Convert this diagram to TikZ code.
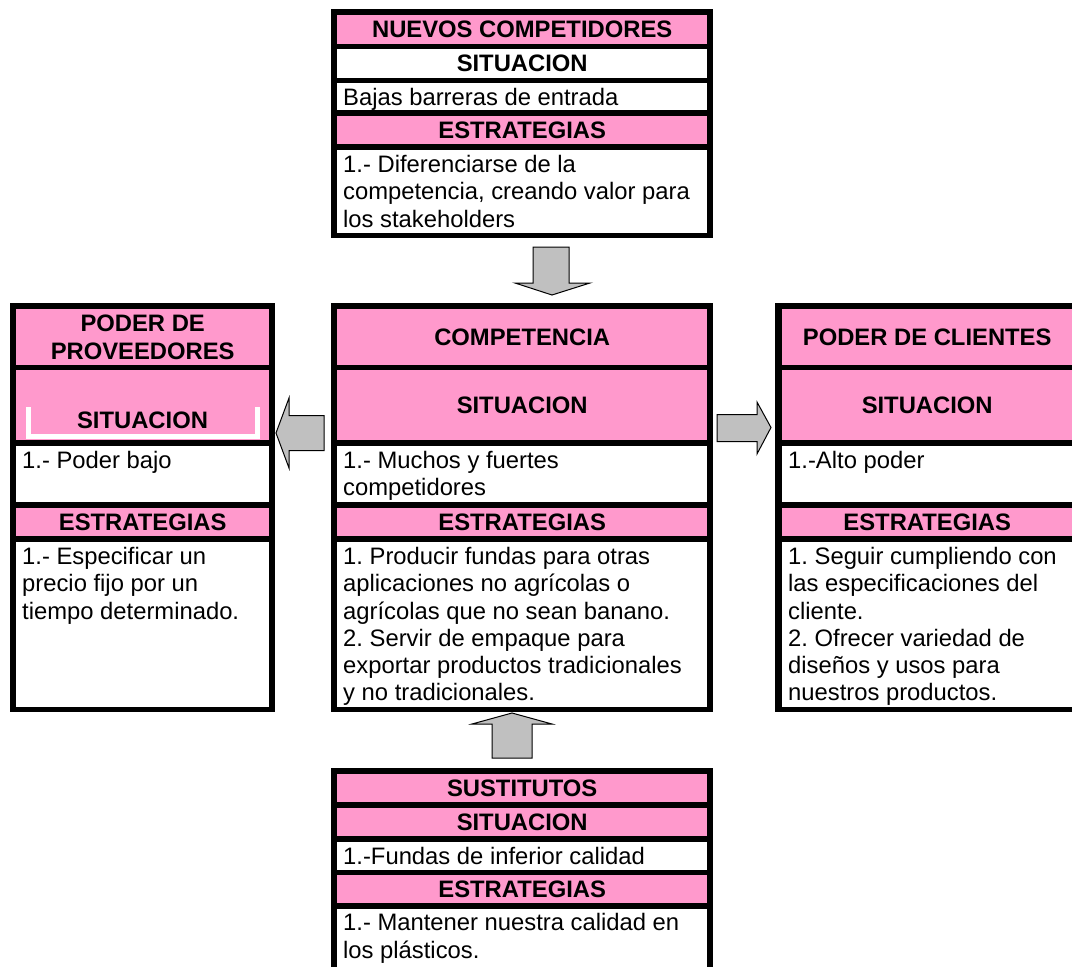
\documentclass[tikz,border=0pt]{standalone}
\usepackage{fontspec}
\setmainfont{Liberation Sans}
\usetikzlibrary{positioning}
\definecolor{rosa}{RGB}{255,153,204}
\definecolor{flecha}{RGB}{192,192,192}
\newcommand{\cajafont}{\fontsize{23.8}{27.3}\selectfont\frenchspacing}

\begin{document}
\begin{tikzpicture}[x=1pt, y=-1pt,
		% Cell styles
		frame/.style={fill=black},
		headcell/.style={rectangle, fill=rosa, inner sep=0pt, anchor=north west,
			align=center, font=\cajafont\bfseries},
		whitecell/.style={rectangle, fill=white, inner sep=0pt, anchor=north west,
			align=center, font=\cajafont\bfseries},
		bodytext/.style={anchor=north west, inner xsep=6pt, inner ysep=5pt,
			align=left, font=\cajafont},
		% Arrow style
		blockarrow/.style={fill=flecha, draw=black, line width=1pt, line join=miter}
		]
		
		\clip (0,0) rectangle (1072,967);
		
		% Nuevos competidores
		\fill[frame] (331,9) rectangle (713,238);
		\node[headcell, minimum width=370pt, minimum height=28.3pt] (nc_title) at (337,15) {NUEVOS COMPETIDORES};
		\node[whitecell, minimum width=370pt, minimum height=29pt] (nc_sit) at (337,48.3) {SITUACION};
		\node[whitecell, minimum width=370pt, minimum height=27.3pt] (nc_sitbody) at (337,82.7) {};
		\node[bodytext] at (nc_sitbody.north west) {Bajas barreras de entrada};
		\node[headcell, minimum width=370pt, minimum height=28pt] (nc_est) at (337,116) {ESTRATEGIAS};
		\node[whitecell, minimum width=370pt, minimum height=82.7pt] (nc_estbody) at (337,150) {};
		\node[bodytext] at (nc_estbody.north west) {1.- Diferenciarse de la\\competencia, creando valor para\\los stakeholders};
		
		% Poder de proveedores
		\fill[frame] (10,303) rectangle (275,712);
		\node[headcell, minimum width=253pt, minimum height=56pt] (pv_title) at (16,309) {PODER DE\\PROVEEDORES};
		\node[headcell, minimum width=253pt, minimum height=70pt] (pv_sit) at (16,370) {};
		\draw[white, line width=5pt] (28,407) -- (28,436) -- (257,436) -- (257,407);
		\node[font=\cajafont\bfseries] (pv_sitlabel) at (142.5,420.5) {SITUACION};
		\node[whitecell, minimum width=253pt, minimum height=56pt] (pv_sitbody) at (16,446) {};
		\node[bodytext] at (pv_sitbody.north west) {1.- Poder bajo};
		\node[headcell, minimum width=253pt, minimum height=28pt] (pv_est) at (16,508) {ESTRATEGIAS};
		\node[whitecell, minimum width=253pt, minimum height=165pt] (pv_estbody) at (16,542) {};
		\node[bodytext] at (pv_estbody.north west) {1.- Especificar un\\precio fijo por un\\tiempo determinado.};
		
		% Competencia
		\fill[frame] (331,303) rectangle (713,712);
		\node[headcell, minimum width=370pt, minimum height=56pt] (cp_title) at (337,309) {COMPETENCIA};
		\node[headcell, minimum width=370pt, minimum height=70pt] (cp_sit) at (337,370) {SITUACION};
		\node[whitecell, minimum width=370pt, minimum height=56pt] (cp_sitbody) at (337,446) {};
		\node[bodytext] at (cp_sitbody.north west) {1.- Muchos y fuertes\\competidores};
		\node[headcell, minimum width=370pt, minimum height=28pt] (cp_est) at (337,508) {ESTRATEGIAS};
		\node[whitecell, minimum width=370pt, minimum height=165pt] (cp_estbody) at (337,542) {};
		\node[bodytext] at (cp_estbody.north west) {1. Producir fundas para otras\\aplicaciones no agrícolas o\\agrícolas que no sean banano.\\2. Servir de empaque para\\exportar productos tradicionales\\y no tradicionales.};
		
		% Poder de clientes
		\fill[frame] (775,303) rectangle (1078,712);
		\node[headcell, minimum width=290pt, minimum height=56pt] (cl_title) at (782,309) {PODER DE CLIENTES};
		\node[headcell, minimum width=290pt, minimum height=70pt] (cl_sit) at (782,370) {SITUACION};
		\node[whitecell, minimum width=290pt, minimum height=56pt] (cl_sitbody) at (782,446) {};
		\node[bodytext] at (cl_sitbody.north west) {1.-Alto poder};
		\node[headcell, minimum width=290pt, minimum height=28pt] (cl_est) at (782,508) {ESTRATEGIAS};
		\node[whitecell, minimum width=290pt, minimum height=165pt] (cl_estbody) at (782,542) {};
		\node[bodytext] at (cl_estbody.north west) {1. Seguir cumpliendo con\\las especificaciones del\\cliente.\\2. Ofrecer variedad de\\diseños y usos para\\nuestros productos.};
		
		% Sustitutos
		\fill[frame] (331,768) rectangle (713,990);
		\node[headcell, minimum width=370pt, minimum height=28.7pt] (su_title) at (337,773.3) {SUSTITUTOS};
		\node[headcell, minimum width=370pt, minimum height=28pt] (su_sit) at (337,808) {SITUACION};
		\node[whitecell, minimum width=370pt, minimum height=28pt] (su_sitbody) at (337,842) {};
		\node[bodytext] at (su_sitbody.north west) {1.-Fundas de inferior calidad};
		\node[headcell, minimum width=370pt, minimum height=28pt] (su_est) at (337,875) {ESTRATEGIAS};
		\node[whitecell, minimum width=370pt, minimum height=80pt] (su_estbody) at (337,908.5) {};
		\node[bodytext] at (su_estbody.north west) {1.- Mantener nuestra calidad en\\los plásticos.};
		
		% Block arrows
		\coordinate (tip_down) at (552,295);
		\coordinate (tip_left) at (276,433);
		\coordinate (tip_right) at (771,427.5);
		\coordinate (tip_up) at (512,713);
		
		\draw[blockarrow] (tip_down) -- ++(-37,-12) -- ++(18,0) -- ++(0,-36) -- ++(36,0) -- ++(0,36) -- ++(21,0) -- cycle;
		\draw[blockarrow] (tip_left) -- ++(13,-35) -- ++(0,17.5) -- ++(35,0) -- ++(0,35) -- ++(-35,0) -- ++(0,17.5) -- cycle;
		\draw[blockarrow] (tip_right) -- ++(-14,-25.5) -- ++(0,12.5) -- ++(-40,0) -- ++(0,27) -- ++(40,0) -- ++(0,12.5) -- cycle;
		\draw[blockarrow] (tip_up) -- ++(-40,11) -- ++(20,0) -- ++(0,34) -- ++(40,0) -- ++(0,-34) -- ++(20,0) -- cycle;
		
	\end{tikzpicture}
\end{document}
